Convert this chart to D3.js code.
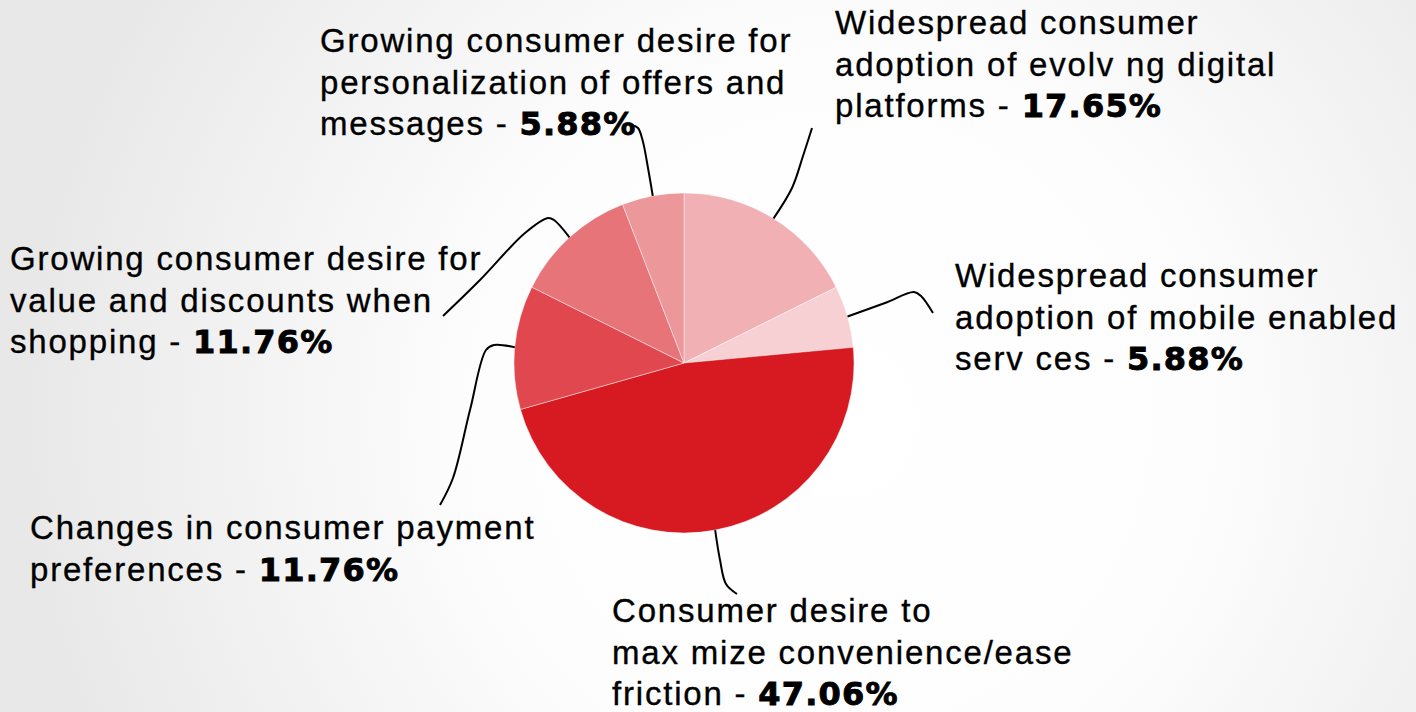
<!DOCTYPE html>
<html>
<head>
<meta charset="utf-8">
<script src="https://cdn.jsdelivr.net/npm/d3@7"></script>
<style>
  html, body { margin: 0; padding: 0; background: #fff; }
  svg { display: block; }
  .lbl { font-family: "Liberation Sans", Arial, Helvetica, sans-serif; font-size: 33px; letter-spacing: 1.8px; fill: #000; stroke: #000; stroke-width: 0.35px; }
  .val { font-family: "DejaVu Sans", sans-serif; font-weight: bold; font-size: 32px; letter-spacing: 1.2px; stroke-width: 0.9px; }
</style>
</head>
<body>
<svg id="chart" width="1416" height="712"></svg>
<script>
// Drivers of change, share of respondents (%), clockwise from 12 o'clock
const categories = [
  "Widespread consumer adoption of evolving digital platforms",
  "Widespread consumer adoption of mobile enabled services",
  "Consumer desire to maximize convenience/ease friction",
  "Changes in consumer payment preferences",
  "Growing consumer desire for value and discounts when shopping",
  "Growing consumer desire for personalization of offers and messages"
];
const values = [17.65, 5.88, 47.06, 11.76, 11.76, 5.88];
const valueLabels = ["17.65%", "5.88%", "47.06%", "11.76%", "11.76%", "5.88%"];
// Wrapped label text, last line is followed by " - " and the bold value
const labelLines = [
  ["Widespread consumer", "adoption of evolv ng digital", "platforms"],
  ["Widespread consumer", "adoption of mobile enabled", "serv ces"],
  ["Consumer desire to", "max mize convenience/ease", "friction"],
  ["Changes in consumer payment", "preferences"],
  ["Growing consumer desire for", "value and discounts when", "shopping"],
  ["Growing consumer desire for", "personalization of offers and", "messages"]
];
const colors = ["#f1b0b3", "#f6d0d2", "#d71a21", "#e0474e", "#e77479", "#ec9799"];

// Layout: label anchor (left x, first baseline) and leader path bends
const layout = [
  { x: 835, y: 34,  bends: [[792, 188], [803, 156], [812, 128]] },
  { x: 955, y: 287, bends: [[885, 303], [914, 292], [921, 296], [933, 313]] },
  { x: 612, y: 622, bends: [[720, 560], [726, 584], [737, 594]] },
  { x: 30,  y: 539, bends: [[494, 345], [486, 350], [470, 410], [453, 478], [440, 505]] },
  { x: 10,  y: 270, bends: [[554, 220], [548, 218], [525, 233], [480, 280], [443, 316]] },
  { x: 320, y: 52,  bends: [[648, 168], [643, 142], [638, 128], [632, 125]] }
];
const lineHeight = 41.5;

const width = 1416, height = 712;
const cx = 684, cy = 363, radius = 170;

const svg = d3.select("#chart");

// soft radial backdrop
const defs = svg.append("defs");
const grad = defs.append("radialGradient")
  .attr("id", "bg").attr("gradientUnits", "userSpaceOnUse")
  .attr("cx", 840).attr("cy", 420).attr("r", 820);
grad.append("stop").attr("offset", "0%").attr("stop-color", "#ffffff");
grad.append("stop").attr("offset", "45%").attr("stop-color", "#fdfdfd");
grad.append("stop").attr("offset", "100%").attr("stop-color", "#e8e8e8");
svg.append("rect").attr("width", width).attr("height", height).attr("fill", "url(#bg)");

const data = categories.map((c, i) => ({ name: c, value: values[i], i }));
const pie = d3.pie().sort(null).value(d => d.value);
const arcs = pie(data);
const arc = d3.arc().innerRadius(0).outerRadius(radius);

const g = svg.append("g").attr("transform", `translate(${cx},${cy})`);
g.selectAll("path.slice")
  .data(arcs)
  .join("path")
  .attr("class", "slice")
  .attr("d", arc)
  .attr("fill", (d, i) => colors[i])
  .attr("stroke", "rgba(255,255,255,0.55)")
  .attr("stroke-width", 0.8);

// leader lines: start on the rim at each slice's mid angle
const leader = d3.line().curve(d3.curveCatmullRom.alpha(0.5));
svg.selectAll("path.leader")
  .data(arcs)
  .join("path")
  .attr("class", "leader")
  .attr("d", (d, i) => {
    const a = (d.startAngle + d.endAngle) / 2;
    const start = [cx + radius * Math.sin(a), cy - radius * Math.cos(a)];
    return leader([start, ...layout[i].bends]);
  })
  .attr("fill", "none")
  .attr("stroke", "#000")
  .attr("stroke-width", 2);

// labels
arcs.forEach((d, i) => {
  const lines = labelLines[i];
  const t = svg.append("text").attr("class", "lbl")
    .attr("x", layout[i].x).attr("y", layout[i].y);
  lines.forEach((ln, j) => {
    const last = j === lines.length - 1;
    t.append("tspan")
      .attr("x", layout[i].x)
      .attr("dy", j === 0 ? 0 : lineHeight)
      .text(last ? ln + " - " : ln);
    if (last) {
      t.append("tspan").attr("class", "val").text(valueLabels[i]);
    }
  });
});
</script>
</body>
</html>
